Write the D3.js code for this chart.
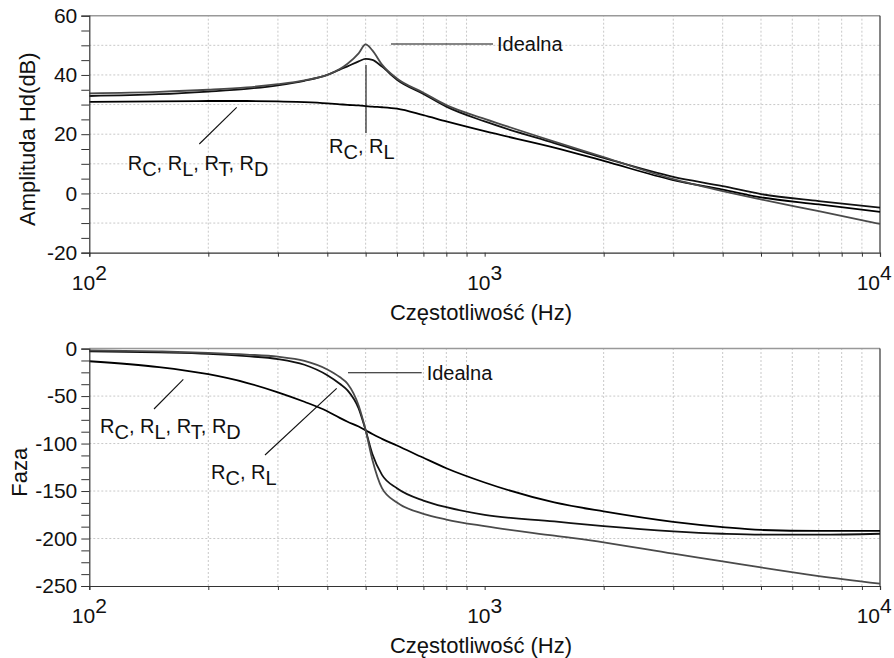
<!DOCTYPE html>
<html>
<head>
<meta charset="utf-8">
<script src="https://cdn.jsdelivr.net/npm/d3@7"></script>
<style>
  body { margin: 0; background: #fff; }
  svg { display: block; }
  text { font-family: Arial, "Liberation Sans", sans-serif; fill: #111; }
</style>
</head>
<body>
<svg id="chart"></svg>
<script>
// frequencies (Hz) used for all curves
const freq = [100, 150, 200, 250, 300, 350, 400, 430, 450, 480, 500, 520, 550, 600, 700, 800, 1000, 1500, 2000, 3000, 4000, 5000, 7000, 10000];

// amplituda Hd (dB)
const ampIdealna = [33.8, 34.3, 35.0, 35.8, 36.9, 38.2, 40.0, 42.0, 43.8, 47.3, 50.3, 48.3, 43.5, 38.8, 34.0, 29.8, 25.2, 17.5, 12.3, 4.8, 0.8, -2.0, -6.0, -10.3];
const ampRcRl = [32.9, 33.5, 34.4, 35.3, 36.5, 38.0, 40.0, 41.8, 42.9, 44.6, 45.4, 45.1, 42.8, 38.4, 33.6, 29.3, 24.3, 17.0, 12.0, 5.6, 2.5, -0.2, -2.6, -4.8];
const ampAll = [30.9, 31.1, 31.2, 31.2, 31.1, 30.8, 30.4, 30.1, 29.9, 29.7, 29.5, 29.3, 29.1, 28.6, 26.4, 24.3, 21.0, 15.5, 11.0, 4.5, 1.3, -1.3, -3.7, -6.2];

// faza (deg)
const phIdealna = [-1.8, -3, -4.5, -6.3, -8.5, -13, -22, -30, -37, -60, -86, -117, -147, -162, -174, -180, -187, -197, -204, -216, -224, -230.5, -239.5, -247.5];
const phRcRl = [-2.8, -4, -5.5, -8, -11, -17, -28, -37, -44, -63, -86, -111, -133, -147, -160, -167, -175, -182, -187, -192.5, -195, -196, -196, -195];
const phAll = [-13.3, -19.5, -27, -36, -46, -56, -66, -73, -77, -82, -86, -90, -95, -102, -115, -126, -141, -162, -171.5, -182.5, -188, -191, -192, -192];

const xMinor = [200, 300, 400, 500, 600, 700, 800, 900, 2000, 3000, 4000, 5000, 6000, 7000, 8000, 9000];
const xTicks = [100, 200, 300, 400, 500, 600, 700, 800, 900, 1000, 2000, 3000, 4000, 5000, 6000, 7000, 8000, 9000, 10000];
const xLabels = [[100, "2"], [1000, "3"], [10000, "4"]];

const width = 894, height = 658;
const svg = d3.select("#chart").attr("width", width).attr("height", height);

const x = d3.scaleLog().domain([100, 10000]).range([89.3, 880]);

const panels = [
  {
    y: d3.scaleLinear().domain([-20, 60]).range([252.7, 15.7]),
    ticks: d3.range(-20, 61, 5), labelEvery: 20, grid: d3.range(-10, 51, 10),
    title: "Amplituda Hd(dB)", titleX: 35,
    series: [[ampAll, "#000"], [ampRcRl, "#111"], [ampIdealna, "#4a4a4a"]]
  },
  {
    y: d3.scaleLinear().domain([-250, 0]).range([586, 348.6]),
    ticks: d3.range(-250, 1, 12.5), labelEvery: 50, grid: [-200, -150, -100, -50],
    title: "Faza", titleX: 27,
    series: [[phAll, "#000"], [phRcRl, "#111"], [phIdealna, "#4a4a4a"]]
  }
];

panels.forEach(function (p) {
  const y = p.y;
  const [y0, y1] = y.range();
  const g = svg.append("g");

  // siatka
  g.selectAll(".gx").data(xMinor).enter().append("line")
    .attr("x1", d => x(d)).attr("x2", d => x(d))
    .attr("y1", y0).attr("y2", y1)
    .style("stroke", "#c8c8c8").style("stroke-dasharray", "2,2");
  g.selectAll(".gy").data(p.grid).enter().append("line")
    .attr("x1", x(100)).attr("x2", x(10000))
    .attr("y1", d => y(d)).attr("y2", d => y(d))
    .style("stroke", "#c8c8c8").style("stroke-dasharray", "2,2");

  // ramka
  g.append("line").attr("x1", x(100)).attr("x2", x(10000)).attr("y1", y1).attr("y2", y1)
    .style("stroke", "#999").style("stroke-width", 1.5);
  g.append("line").attr("x1", x(10000)).attr("x2", x(10000)).attr("y1", y1).attr("y2", y0)
    .style("stroke", "#333").style("stroke-width", 1.2);

  // krzywe
  const line = d3.line().x((d, i) => x(freq[i])).y(d => y(d)).curve(d3.curveMonotoneX);
  p.series.forEach(function (s) {
    g.append("path").datum(s[0]).attr("d", line)
      .style("fill", "none").style("stroke", s[1]).style("stroke-width", 1.8);
  });

  // os Y
  const ay = g.append("g").attr("transform", `translate(${x(100)},0)`)
    .call(d3.axisLeft(y).tickValues(p.ticks).tickSize(8).tickPadding(4)
      .tickFormat(d => (Math.abs(d % p.labelEvery) < 1e-9 ? d : "")));
  // os X
  const ax = g.append("g").attr("transform", `translate(0,${y0})`)
    .call(d3.axisBottom(x).tickValues(xTicks).tickSize(4).tickFormat(""));
  [ay, ax].forEach(a => {
    a.select(".domain").style("stroke", "#333").style("stroke-width", 1.2);
    a.selectAll(".tick line").style("stroke", "#333");
    a.selectAll("text").style("font-size", "21px").style("font-family", "Arial, 'Liberation Sans', sans-serif").style("fill", "#111");
  });

  xLabels.forEach(function (l) {
    const t = g.append("text").attr("x", x(l[0])).attr("y", y0 + 37)
      .attr("text-anchor", "middle").style("font-size", "21px");
    t.append("tspan").text("10");
    t.append("tspan").attr("dy", -10).text(l[1]);
    // nie wychodz poza prawa krawedz
    const b = t.node().getBBox();
    if (b.x + b.width > width - 2) t.attr("x", x(l[0]) - (b.x + b.width - (width - 2)));
  });

  g.append("text").attr("x", 481).attr("y", y0 + 67)
    .attr("text-anchor", "middle").style("font-size", "22px")
    .text("Częstotliwość (Hz)");

  g.append("text")
    .attr("transform", `translate(${p.titleX},${(y0 + y1) / 2 + 5}) rotate(-90)`)
    .attr("text-anchor", "middle").style("font-size", "22px")
    .text(p.title);
});

// opisy krzywych
function label(x0, y0, parts) {
  const t = svg.append("text").attr("x", x0).attr("y", y0).style("font-size", "20px");
  let low = false;
  parts.forEach(function (s, i) {
    const isSub = i % 2 === 1;
    const ts = t.append("tspan").text(s);
    if (isSub && !low) { ts.attr("dy", 6); low = true; }
    else if (!isSub && low) { ts.attr("dy", -6); low = false; }
  });
}
function pointer(x1, y1, x2, y2) {
  svg.append("line").attr("x1", x1).attr("y1", y1).attr("x2", x2).attr("y2", y2)
    .style("stroke", "#111").style("stroke-width", 1.1);
}

pointer(391, 44, 493, 44);
svg.append("text").attr("x", 497).attr("y", 51).style("font-size", "20px").text("Idealna");
pointer(366, 65, 366, 133);
label(329, 152.5, ["R", "C", ", R", "L"]);
pointer(199.3, 144, 236.7, 107.3);
label(127.7, 170, ["R", "C", ", R", "L", ", R", "T", ", R", "D"]);

pointer(348, 372.7, 421.7, 372.7);
svg.append("text").attr("x", 426.7).attr("y", 380).style("font-size", "20px").text("Idealna");
pointer(336.7, 388.3, 265, 455);
label(211, 479.3, ["R", "C", ", R", "L"]);
pointer(183.3, 379.3, 154, 409);
label(100, 433.3, ["R", "C", ", R", "L", ", R", "T", ", R", "D"]);
</script>
</body>
</html>
